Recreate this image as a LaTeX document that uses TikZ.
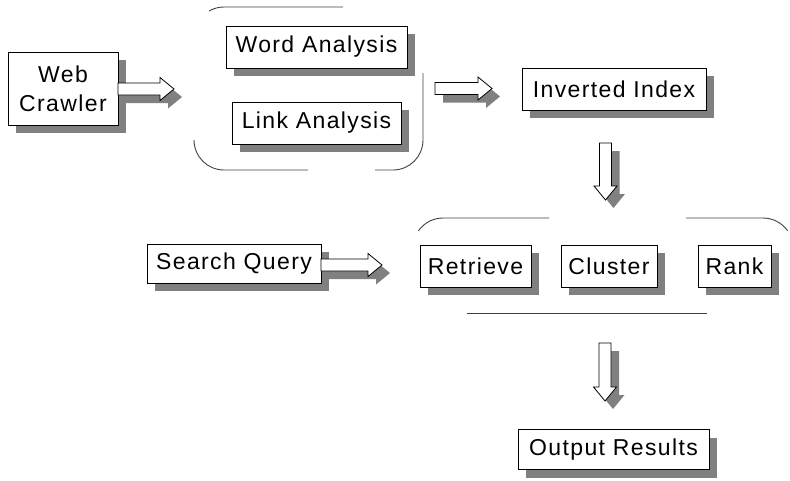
\documentclass[tikz,border=0pt]{standalone}
\usepackage{fontspec}
\setmainfont{Liberation Sans}[LetterSpace=6]
\usetikzlibrary{shadows}
\newcommand\blockarr[4]{%
  \begin{scope}[shift={(#1+8,#2+8)},rotate=#3]
    \fill[arrshadow] (0,-6)--(#4-14,-6)--(#4-14,-11.5)--(#4,0)--(#4-14,11.5)--(#4-14,6)--(0,6)--cycle;
  \end{scope}
  \begin{scope}[shift={(#1,#2)},rotate=#3]
    \draw[arrbody] (0,-6)--(#4-14,-6)--(#4-14,-11.5)--(#4,0)--(#4-14,11.5)--(#4-14,6)--(0,6)--cycle;
  \end{scope}}
\tikzset{
  box/.style={draw=black, line width=0.8pt, fill=white, inner sep=0pt, align=center,
    font=\fontsize{23}{29}\selectfont,
    drop shadow={shadow xshift=8pt, shadow yshift=-8pt, fill=black!50, opacity=1}},
  arrshadow/.style={fill=black!50},
  arrbody/.style={draw=black, line width=0.8pt, fill=white, line join=miter},
  bracket/.style={draw=black!75, line width=0.9pt},
}
\begin{document}
\begin{tikzpicture}[x=1pt,y=-1pt]
\useasboundingbox (0,0) rectangle (790,480);
% group brackets
\draw[bracket] (224,37) ++(-120:30) arc[start angle=-120,end angle=-90,radius=30] -- (343,7);
\draw[bracket] (423,73) -- (423,140) arc[start angle=0,end angle=90,radius=30] -- (375,170);
\draw[bracket] (308,170) -- (224,170) arc[start angle=90,end angle=180,radius=30];
\draw[bracket] (443,248) ++(-145:30) arc[start angle=-145,end angle=-90,radius=30] -- (549,218);
\draw[bracket] (686,218) -- (763,218) arc[start angle=-90,end angle=-35,radius=30];
\draw[bracket] (467,313) -- (707,313);
% nodes
\node[box, minimum width=110, minimum height=73] (web) at (63,88.5) {Web\\Crawler};
\node[box, minimum width=181, minimum height=42] (word) at (316.5,47) {Word Analysis};
\node[box, minimum width=169, minimum height=42] (link) at (316.5,123) {Link Analysis};
\node[box, minimum width=184, minimum height=42] (inv) at (614,89) {Inverted Index};
\node[box, minimum width=174, minimum height=39] (query) at (234,263.5) {Search Query};
\node[box, minimum width=111, minimum height=42] (retr) at (475.5,266) {Retrieve};
\node[box, minimum width=96, minimum height=42] (clus) at (609,266) {Cluster};
\node[box, minimum width=73, minimum height=42] (rank) at (734.5,266) {Rank};
\node[box, minimum width=191, minimum height=40] (out) at (613.5,449.5) {Output Results};
% block arrows
\blockarr{118}{89}{0}{56}
\blockarr{435}{88.5}{0}{57}
\blockarr{321}{265}{0}{61}
\blockarr{605.5}{143}{-90}{57}
\blockarr{605}{343}{-90}{58}
\end{tikzpicture}
\end{document}
